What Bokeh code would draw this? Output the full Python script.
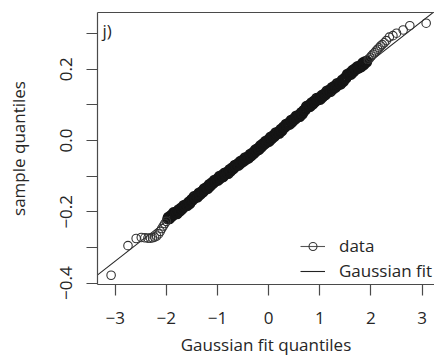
from bokeh.plotting import figure
from bokeh.models import (ColumnDataSource, FixedTicker, Legend, LegendItem, Label,
                          LinearAxis, Range1d)
from bokeh.embed import file_html
from bokeh.resources import INLINE

# ---- data ----
lower_x = [-3.08, -2.75, -2.59, -2.49, -2.42, -2.36, -2.31, -2.27, -2.23, -2.19, -2.15,
           -2.12, -2.09, -2.06, -2.03, -2.00]
lower_y = [-0.378, -0.295, -0.275, -0.272, -0.273, -0.274, -0.274, -0.273, -0.271, -0.268,
           -0.262, -0.255, -0.247, -0.240, -0.233, -0.227]

band_x = [-1.975, -1.95, -1.925, -1.9, -1.875, -1.85, -1.825, -1.8, -1.775, -1.75, -1.725,
          -1.7, -1.675, -1.65, -1.625, -1.6, -1.575, -1.55, -1.525, -1.5, -1.475, -1.45,
          -1.425, -1.4, -1.375, -1.35, -1.325, -1.3, -1.275, -1.25, -1.225, -1.2, -1.175,
          -1.15, -1.125, -1.1, -1.075, -1.05, -1.025, -1.0, -0.975, -0.95, -0.925, -0.9,
          -0.875, -0.85, -0.825, -0.8, -0.775, -0.75, -0.725, -0.7, -0.675, -0.65, -0.625,
          -0.6, -0.575, -0.55, -0.525, -0.5, -0.475, -0.45, -0.425, -0.4, -0.375, -0.35,
          -0.325, -0.3, -0.275, -0.25, -0.225, -0.2, -0.175, -0.15, -0.125, -0.1, -0.075,
          -0.05, -0.025, 0.0, 0.025, 0.05, 0.075, 0.1, 0.125, 0.15, 0.175, 0.2, 0.225, 0.25,
          0.275, 0.3, 0.325, 0.35, 0.375, 0.4, 0.425, 0.45, 0.475, 0.5, 0.525, 0.55, 0.575,
          0.6, 0.625, 0.65, 0.675, 0.7, 0.725, 0.75, 0.775, 0.8, 0.825, 0.85, 0.875, 0.9,
          0.925, 0.95, 0.975, 1.0, 1.025, 1.05, 1.075, 1.1, 1.125, 1.15, 1.175, 1.2, 1.225,
          1.25, 1.275, 1.3, 1.325, 1.35, 1.375, 1.4, 1.425, 1.45, 1.475, 1.5, 1.525, 1.55,
          1.575, 1.6, 1.625, 1.65, 1.675, 1.7, 1.725, 1.75, 1.775, 1.8, 1.825, 1.85, 1.875,
          1.9, 1.925]
band_y = [-0.220, -0.217, -0.214, -0.211, -0.208, -0.206, -0.203,
          -0.202, -0.199, -0.196, -0.193, -0.191, -0.188, -0.185, -0.182, -0.179, -0.177, -0.174, -0.171,
          -0.166, -0.163, -0.161, -0.158, -0.155, -0.152, -0.149, -0.147, -0.144, -0.141, -0.138, -0.135,
          -0.131, -0.128, -0.125, -0.122, -0.119, -0.117, -0.114, -0.111, -0.108, -0.105, -0.103, -0.100,
          -0.100, -0.097, -0.094, -0.092, -0.089, -0.086, -0.083, -0.080, -0.078, -0.075, -0.072, -0.069,
          -0.066, -0.064, -0.061, -0.058,
          -0.057, -0.054, -0.052, -0.049, -0.046, -0.043, -0.040, -0.038, -0.035, -0.032, -0.029, -0.026,
          -0.022, -0.019, -0.016, -0.013, -0.010, -0.008, -0.005, -0.002, 0.001, 0.004, 0.007, 0.009,
          0.012, 0.015, 0.018, 0.021, 0.023, 0.026, 0.029, 0.032,
          0.037, 0.040, 0.042, 0.045, 0.048, 0.051, 0.054, 0.056, 0.059, 0.062, 0.065, 0.068, 0.070,
          0.073, 0.076, 0.079,
          0.085, 0.089, 0.092, 0.095, 0.098, 0.101, 0.103, 0.106, 0.109, 0.112, 0.115, 0.117,
          0.118, 0.121, 0.124, 0.127, 0.129, 0.132, 0.135, 0.138, 0.141, 0.143, 0.146, 0.149,
          0.150, 0.153, 0.156, 0.158, 0.161, 0.164, 0.167, 0.170,
          0.175, 0.179, 0.183, 0.186, 0.189, 0.191, 0.194, 0.197, 0.200, 0.203,
          0.203, 0.206, 0.209, 0.212, 0.215, 0.217, 0.220, 0.223]

band2_x = [-1.9625, -1.9375, -1.9125, -1.8875, -1.8625, -1.8375, -1.8125, -1.7875, -1.7625,
           -1.7375, -1.7125, -1.6875, -1.6625, -1.6375, -1.6125, -1.5875, -1.5625, -1.5375,
           -1.5125, -1.4875, -1.4625, -1.4375, -1.4125, -1.3875, -1.3625, -1.3375, -1.3125,
           -1.2875, -1.2625, -1.2375, -1.2125, -1.1875, -1.1625, -1.1375, -1.1125, -1.0875,
           -1.0625, -1.0375, -1.0125, -0.9875, -0.9625, -0.9375, -0.9125, -0.8875, -0.8625,
           -0.8375, -0.8125, -0.7875, -0.7625, -0.7375, -0.7125, -0.6875, -0.6625, -0.6375,
           -0.6125, -0.5875, -0.5625, -0.5375, -0.5125, -0.4875, -0.4625, -0.4375, -0.4125,
           -0.3875, -0.3625, -0.3375, -0.3125, -0.2875, -0.2625, -0.2375, -0.2125, -0.1875,
           -0.1625, -0.1375, -0.1125, -0.0875, -0.0625, -0.0375, -0.0125, 0.0125, 0.0375,
           0.0625, 0.0875, 0.1125, 0.1375, 0.1625, 0.1875, 0.2125, 0.2375, 0.2625, 0.2875,
           0.3125, 0.3375, 0.3625, 0.3875, 0.4125, 0.4375, 0.4625, 0.4875, 0.5125, 0.5375,
           0.5625, 0.5875, 0.6125, 0.6375, 0.6625, 0.6875, 0.7125, 0.7375, 0.7625, 0.7875,
           0.8125, 0.8375, 0.8625, 0.8875, 0.9125, 0.9375, 0.9625, 0.9875, 1.0125, 1.0375,
           1.0625, 1.0875, 1.1125, 1.1375, 1.1625, 1.1875, 1.2125, 1.2375, 1.2625, 1.2875,
           1.3125, 1.3375, 1.3625, 1.3875, 1.4125, 1.4375, 1.4625, 1.4875, 1.5125, 1.5375,
           1.5625, 1.5875, 1.6125, 1.6375, 1.6625, 1.6875, 1.7125, 1.7375, 1.7625, 1.7875,
           1.8125, 1.8375, 1.8625, 1.8875, 1.9125]
band2_y = [-0.215, -0.220, -0.210, -0.213, -0.202, -0.207, -0.201, -0.206,
           -0.194, -0.199, -0.189, -0.193, -0.182, -0.186, -0.179, -0.183,
           -0.172, -0.177, -0.166, -0.168, -0.157, -0.162, -0.155, -0.159,
           -0.147, -0.152, -0.143, -0.146, -0.135, -0.139, -0.131, -0.135,
           -0.123, -0.128, -0.118, -0.121, -0.111, -0.115, -0.108, -0.112,
           -0.100, -0.106, -0.097, -0.102, -0.091, -0.095, -0.089, -0.093,
           -0.081, -0.086, -0.076, -0.080, -0.069, -0.073, -0.066, -0.070,
           -0.059, -0.064, -0.055, -0.059, -0.048, -0.053, -0.046, -0.050,
           -0.038, -0.043, -0.034, -0.037, -0.026, -0.030, -0.022, -0.026,
           -0.014, -0.019, -0.009, -0.012, -0.002, -0.006, 0.002, -0.003,
           0.010, 0.004, 0.014, 0.011, 0.022, 0.018, 0.024, 0.020,
           0.032, 0.027, 0.038, 0.036, 0.046, 0.042, 0.049, 0.045,
           0.057, 0.051, 0.061, 0.058, 0.069, 0.065, 0.071, 0.067,
           0.079, 0.074, 0.085, 0.084, 0.096, 0.092, 0.099, 0.095,
           0.106, 0.101, 0.111, 0.108, 0.119, 0.114, 0.120, 0.115,
           0.127, 0.122, 0.131, 0.128, 0.139, 0.135, 0.142, 0.137,
           0.149, 0.144, 0.153, 0.149, 0.160, 0.155, 0.162, 0.158,
           0.170, 0.165, 0.176, 0.174, 0.186, 0.183, 0.190, 0.185,
           0.197, 0.192, 0.202, 0.199, 0.208, 0.203, 0.210, 0.206,
           0.218, 0.212, 0.222, 0.219]

upper_x = [1.95, 1.98, 2.01, 2.04, 2.07, 2.10, 2.13, 2.16, 2.19, 2.22, 2.26, 2.30, 2.36,
           2.43, 2.50, 2.63, 2.76, 3.08]
upper_y = [0.228, 0.232, 0.237, 0.242, 0.246, 0.251, 0.256, 0.260, 0.265, 0.269, 0.274,
           0.280, 0.290, 0.294, 0.301, 0.310, 0.322, 0.329]

fit_mean = -0.002
fit_sd = 0.1122
fit_x = [-3.6, 3.6]

x_ticks = [-3, -2, -1, 0, 1, 2, 3]
x_tick_labels = ["\u22123", "\u22122", "\u22121", "0", "1", "2", "3"]
y_ticks = [-0.4, -0.3, -0.2, -0.1, 0.0, 0.1, 0.2, 0.3]
y_tick_labels = ["\u22120.4", "", "\u22120.2", "", "0.0", "", "0.2", ""]
x_title = "Gaussian fit quantiles"
y_title = "sample quantiles"
panel_tag = "j)"

tail_x = lower_x + upper_x
tail_y = lower_y + upper_y
dense_x = band_x + band2_x
dense_y = band_y[:len(band_x)] + band2_y[:len(band2_x)]
nd = min(len(dense_x), len(dense_y))
dense_x, dense_y = dense_x[:nd], dense_y[:nd]

FONT = "Open Sans"
FS = "17px"
TXT = "#262626"
AX = "#4a4a4a"

p = figure(width=434, height=361, output_backend="svg", toolbar_location=None,
           x_range=Range1d(-3.346, 3.243), y_range=Range1d(-0.404, 0.359),
           min_border_left=97, min_border_right=0, min_border_top=12, min_border_bottom=77,
           background_fill_color="white", border_fill_color="white")
p.outline_line_color = None
p.xgrid.visible = False
p.ygrid.visible = False

# fit line
fit_src = ColumnDataSource(dict(x=fit_x, y=[fit_mean + fit_sd * v for v in fit_x]))
fit_r = p.line("x", "y", source=fit_src, line_color="#222222", line_width=1.1)

# data points
dense = p.scatter(x=dense_x, y=dense_y, marker="circle", size=9, fill_color=None,
                  line_color="#151515", line_width=1.8)
tails = p.scatter(x=tail_x, y=tail_y, marker="circle", size=8.5, fill_color=None,
                  line_color="#333333", line_width=1.1)
legend_line = p.line(x=[float("nan")], y=[float("nan")], line_color="#555555", line_width=1.1)

# axes
xa = p.xaxis[0]
xa.ticker = FixedTicker(ticks=x_ticks)
xa.major_label_overrides = {t: l for t, l in zip(x_ticks, x_tick_labels)}
xa.axis_label = x_title
ya = p.yaxis[0]
ya.ticker = FixedTicker(ticks=y_ticks)
ya.major_label_overrides = {t: l for t, l in zip(y_ticks, y_tick_labels)}
ya.axis_label = y_title
ya.major_label_orientation = "vertical"

for ax in (xa, ya):
    ax.axis_line_color = AX
    ax.axis_line_width = 1.2
    ax.major_tick_line_color = AX
    ax.major_tick_line_width = 1.2
    ax.major_tick_out = 11
    ax.major_tick_in = 0
    ax.minor_tick_line_color = None
    ax.major_label_text_font = FONT
    ax.major_label_text_font_size = FS
    ax.major_label_text_color = TXT
    ax.axis_label_text_font = FONT
    ax.axis_label_text_font_size = FS
    ax.axis_label_text_font_style = "normal"
    ax.axis_label_text_color = TXT
xa.major_label_standoff = 16
xa.axis_label_standoff = 6
ya.major_label_standoff = 14
ya.axis_label_standoff = 28

# top border
top = LinearAxis(major_tick_out=0, major_tick_in=0, minor_tick_out=0, minor_tick_in=0,
                 major_tick_line_color=None, minor_tick_line_color=None,
                 major_label_text_font_size="0px", major_label_standoff=0,
                 axis_line_color=AX, axis_line_width=1.2, ticker=FixedTicker(ticks=[]))
p.add_layout(top, "above")

# panel tag
p.add_layout(Label(x=-3.25, y=0.308, text=panel_tag, text_font=FONT, text_font_size=FS,
                   text_color=TXT, text_align="left", text_baseline="middle"))

legend = Legend(items=[LegendItem(label="data", renderers=[legend_line, tails]),
                       LegendItem(label="Gaussian fit", renderers=[fit_r])],
                location=(203, 2), orientation="vertical",
                border_line_color=None, background_fill_alpha=0,
                label_text_font=FONT, label_text_font_size=FS, label_text_color=TXT,
                glyph_width=25, glyph_height=20, label_height=20, label_standoff=14,
                spacing=2, padding=0, margin=0)
p.add_layout(legend, "center")

open("out.html", "w").write(file_html(p, INLINE))
